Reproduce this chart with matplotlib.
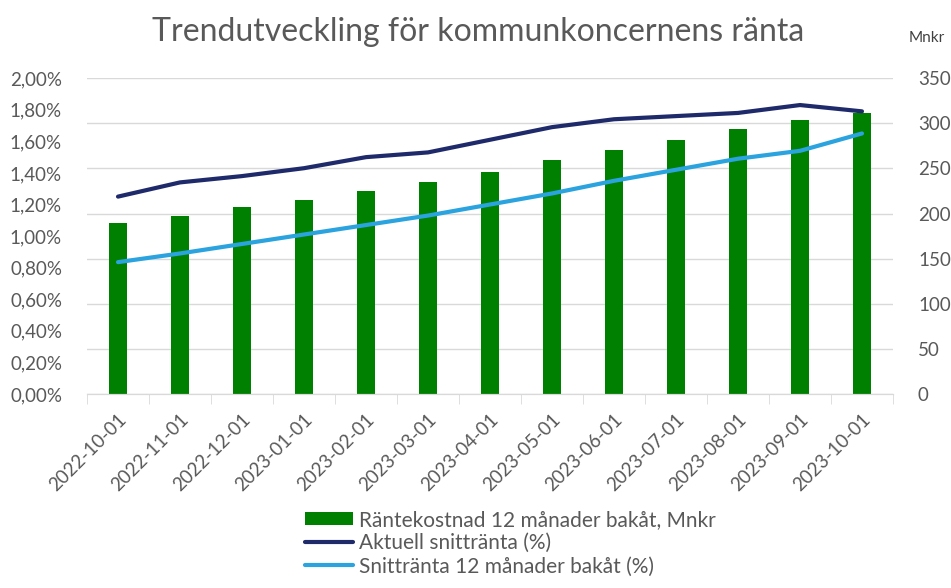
import matplotlib.pyplot as plt
import numpy as np

# Data
dates = ['2022-10-01', '2022-11-01', '2022-12-01', '2023-01-01', '2023-02-01',
         '2023-03-01', '2023-04-01', '2023-05-01', '2023-06-01', '2023-07-01',
         '2023-08-01', '2023-09-01', '2023-10-01']
kostnad = [190, 197, 207, 215, 225, 235, 246, 259, 270, 282, 294, 304, 311]
aktuell = [1.25, 1.34, 1.38, 1.43, 1.50, 1.53, 1.61, 1.69, 1.74, 1.76, 1.78, 1.83, 1.79]
snitt12 = [0.835, 0.89, 0.95, 1.01, 1.07, 1.13, 1.20, 1.27, 1.35, 1.42, 1.49, 1.54, 1.65]

plt.rcParams['font.family'] = ['Lato', 'DejaVu Sans']
grey = '#595959'

fig = plt.figure(figsize=(9.51, 5.88), dpi=100)
ax = fig.add_axes([0.0915, 0.33, 0.8475, 0.537])
ax2 = ax.twinx()

x = np.arange(len(dates))

# Bars on the right axis (Mnkr)
ax2.bar(x, kostnad, width=0.29, color='#008000', zorder=2,
        label='Räntekostnad 12 månader bakåt, Mnkr')
ax2.set_ylim(0, 350)
ax2.set_yticks(range(0, 351, 50))
ax2.yaxis.grid(True, color='#d9d9d9', lw=1)
ax2.set_axisbelow(True)

# Lines on the left axis (%)
ax.plot(x, aktuell, color='#1f2a6b', lw=3, solid_capstyle='round',
        label='Aktuell snittränta (%)')
ax.plot(x, snitt12, color='#2aa3df', lw=3, solid_capstyle='round',
        label='Snittränta 12 månader bakåt (%)')
ax.set_ylim(0, 2.0)
ax.set_yticks(np.arange(0, 2.01, 0.2))
ax.set_yticklabels([f'{v:.2f}%'.replace('.', ',') for v in np.arange(0, 2.01, 0.2)])
ax.set_zorder(ax2.get_zorder() + 1)
ax.patch.set_visible(False)

ax.set_xlim(-0.5, len(dates) - 0.5)
ax.set_xticks(x)
ax.set_xticklabels(dates, rotation=45, ha='right', rotation_mode='anchor')
ax.set_xticks(np.arange(-0.5, len(dates)), minor=True)
ax.tick_params(axis='x', which='major', length=0, pad=12, labelsize=13.5, labelcolor=grey)
ax.tick_params(axis='x', which='minor', length=7, color='#d9d9d9')
ax.tick_params(axis='y', length=0, labelsize=13.5, labelcolor=grey, pad=18)
ax2.tick_params(axis='y', length=0, labelsize=13.5, labelcolor=grey, pad=18)

for a in (ax, ax2):
    for s in ('top', 'left', 'right'):
        a.spines[s].set_visible(False)
    a.spines['bottom'].set_color('#d9d9d9')

fig.text(0.503, 0.945, 'Trendutveckling för kommunkoncernens ränta',
         ha='center', va='center', fontsize=23, color=grey)
fig.text(0.975, 0.935, 'Mnkr', ha='center', va='center', fontsize=11, color='#404040')

h1, l1 = ax2.get_legend_handles_labels()
h2, l2 = ax.get_legend_handles_labels()
fig.legend(h1 + h2, l1 + l2, loc='upper left', bbox_to_anchor=(0.31, 0.15),
           frameon=False, fontsize=15, labelcolor=grey, handlelength=2.3,
           handleheight=0.6, labelspacing=0.15, handletextpad=0.3, borderpad=0)

fig.savefig('out.png', dpi=100)
